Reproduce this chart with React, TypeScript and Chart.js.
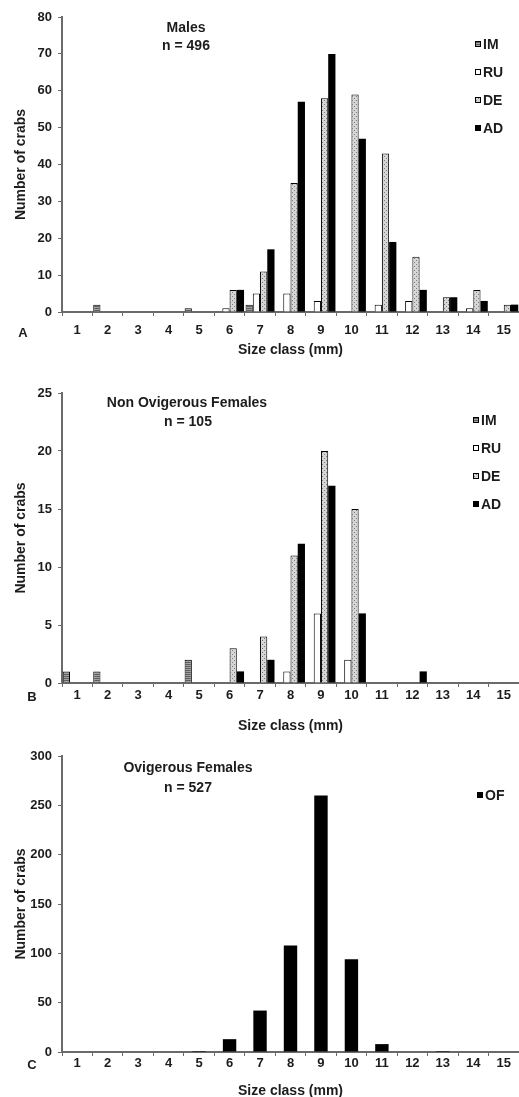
import React, { useEffect, useRef } from 'react';
import { Chart, registerables } from 'chart.js';

Chart.register(...registerables);

// ---------- data ----------
const SIZE_CLASSES = ['1', '2', '3', '4', '5', '6', '7', '8', '9', '10', '11', '12', '13', '14', '15'];

// Panel A – Males (n = 496)
const MALES_IM = [0, 2, 0, 0, 1, 0, 2, 0, 0, 0, 0, 0, 0, 0, 0];
const MALES_RU = [0, 0, 0, 0, 0, 1, 5, 5, 3, 0, 2, 3, 0, 1, 0];
const MALES_DE = [0, 0, 0, 0, 0, 6, 11, 35, 58, 59, 43, 15, 4, 6, 2];
const MALES_AD = [0, 0, 0, 0, 0, 6, 17, 57, 70, 47, 19, 6, 4, 3, 2];

// Panel B – Non ovigerous females (n = 105)
const NOF_IM = [1, 1, 0, 0, 2, 0, 0, 0, 0, 0, 0, 0, 0, 0, 0];
const NOF_RU = [0, 0, 0, 0, 0, 0, 0, 1, 6, 2, 0, 0, 0, 0, 0];
const NOF_DE = [0, 0, 0, 0, 0, 3, 4, 11, 20, 15, 0, 0, 0, 0, 0];
const NOF_AD = [0, 0, 0, 0, 0, 1, 2, 12, 17, 6, 0, 1, 0, 0, 0];

// Panel C – Ovigerous females (n = 527)
const OF_VALUES = [0, 0, 0, 0, 1, 13, 42, 108, 260, 94, 8, 0, 1, 0, 0];

const FONT = '"Liberation Sans", Arial, Helvetica, sans-serif';
const TEXT = '#1c1c1c';
const AXIS = '#6a6a6a';

type Kind = 'IM' | 'RU' | 'DE' | 'AD' | 'OF';

function makeFill(kind: Kind): string | CanvasPattern {
  if (kind === 'RU') return '#ffffff';
  if (kind === 'AD' || kind === 'OF') return '#000000';
  const c = document.createElement('canvas');
  c.width = 4;
  c.height = 4;
  const g = c.getContext('2d')!;
  if (kind === 'IM') {
    g.fillStyle = '#a2a2a2';
    g.fillRect(0, 0, 4, 4);
    g.fillStyle = '#5e5e5e';
    g.fillRect(0, 0, 4, 1);
    g.fillRect(0, 2, 4, 1);
  } else {
    g.fillStyle = '#d6d6d6';
    g.fillRect(0, 0, 4, 4);
    g.fillStyle = '#7c7c7c';
    g.fillRect(0, 0, 1, 1);
    g.fillRect(2, 2, 1, 1);
  }
  const p = g.createPattern(c, 'repeat');
  return p || '#bbbbbb';
}

interface PanelCfg {
  top: number;
  height: number;
  plotTop: number; // canvas coords
  xAxisHeight: number;
  yMax: number;
  yStep: number;
  series: { label: Kind; data: number[] }[];
  categoryPercentage: number;
  tickPad: number;
  titlePadBottom: number;
  letter: string;
  letterPos: [number, number];
  notes: { text: string; x: number; y: number }[];
  legendX: number;
  legendY: number;
}

const PANELS: PanelCfg[] = [
  {
    top: 0,
    height: 362,
    plotTop: 17,
    xAxisHeight: 50,
    yMax: 80,
    yStep: 10,
    series: [
      { label: 'IM', data: MALES_IM },
      { label: 'RU', data: MALES_RU },
      { label: 'DE', data: MALES_DE },
      { label: 'AD', data: MALES_AD },
    ],
    categoryPercentage: 0.95,
    tickPad: 7,
    titlePadBottom: 3,
    letter: 'A',
    letterPos: [23, 333],
    notes: [
      { text: 'Males', x: 186, y: 28 },
      { text: 'n = 496', x: 186, y: 46 },
    ],
    legendX: 475,
    legendY: 44,
  },
  {
    top: 362,
    height: 378,
    plotTop: 31,
    xAxisHeight: 57,
    yMax: 25,
    yStep: 5,
    series: [
      { label: 'IM', data: NOF_IM },
      { label: 'RU', data: NOF_RU },
      { label: 'DE', data: NOF_DE },
      { label: 'AD', data: NOF_AD },
    ],
    categoryPercentage: 0.95,
    tickPad: 1,
    titlePadBottom: 5,
    letter: 'B',
    letterPos: [32, 335],
    notes: [
      { text: 'Non Ovigerous Females', x: 187, y: 41 },
      { text: 'n = 105', x: 188, y: 60 },
    ],
    legendX: 473,
    legendY: 58,
  },
  {
    top: 740,
    height: 362,
    plotTop: 16,
    xAxisHeight: 50,
    yMax: 300,
    yStep: 50,
    series: [{ label: 'OF', data: OF_VALUES }],
    categoryPercentage: 0.44,
    tickPad: 0,
    titlePadBottom: 2,
    letter: 'C',
    letterPos: [32, 325],
    notes: [
      { text: 'Ovigerous Females', x: 188, y: 28 },
      { text: 'n = 527', x: 188, y: 48 },
    ],
    legendX: 477,
    legendY: 55,
  },
];

function Panel({ cfg }: { cfg: PanelCfg }) {
  const ref = useRef<HTMLCanvasElement>(null);

  useEffect(() => {
    const canvas = ref.current;
    if (!canvas) return;

    const datasets = cfg.series.map((s) => {
      const fill = makeFill(s.label);
      const solid = s.label === 'AD' || s.label === 'OF';
      return {
        label: s.label,
        data: s.data,
        backgroundColor: fill as any,
        borderColor: '#000000',
        borderWidth: solid ? 0 : 1,
        categoryPercentage: cfg.categoryPercentage,
        barPercentage: 1.0,
      };
    });

    const overlay = {
      id: 'overlay',
      afterDraw(chart: Chart) {
        const ctx = chart.ctx;
        ctx.save();
        ctx.fillStyle = TEXT;
        ctx.textBaseline = 'middle';
        ctx.textAlign = 'center';
        ctx.font = `bold 14px ${FONT}`;
        cfg.notes.forEach((n) => ctx.fillText(n.text, n.x, n.y));
        ctx.font = `bold 13px ${FONT}`;
        ctx.fillText(cfg.letter, cfg.letterPos[0], cfg.letterPos[1]);
        // legend
        ctx.font = `bold 14px ${FONT}`;
        ctx.textAlign = 'left';
        chart.data.datasets.forEach((ds: any, i: number) => {
          const y = cfg.legendY + i * 28;
          ctx.fillStyle = ds.backgroundColor;
          ctx.fillRect(cfg.legendX, y - 3, 6, 6);
          ctx.strokeStyle = '#000';
          ctx.lineWidth = 1;
          ctx.strokeRect(cfg.legendX + 0.5, y - 2.5, 5, 5);
          ctx.fillStyle = TEXT;
          ctx.fillText(ds.label, cfg.legendX + 8, y + 1);
        });
        ctx.restore();
      },
    };

    const chart = new Chart(canvas, {
      type: 'bar',
      data: { labels: SIZE_CLASSES, datasets },
      options: {
        responsive: false,
        animation: false,
        devicePixelRatio: 1,
        layout: { padding: { top: cfg.plotTop, left: 0, right: 0, bottom: 0 } },
        plugins: {
          legend: { display: false },
          tooltip: { enabled: false },
          title: { display: false },
        },
        scales: {
          x: {
            type: 'category',
            offset: true,
            grid: {
              offset: true,
              drawOnChartArea: false,
              drawTicks: true,
              tickLength: 4,
              color: AXIS,
              lineWidth: 1,
            },
            border: { display: true, color: AXIS, width: 2 },
            ticks: {
              color: TEXT,
              font: { family: FONT, size: 13, weight: 'bold' },
              padding: cfg.tickPad,
              maxRotation: 0,
              autoSkip: false,
            },
            title: {
              display: true,
              text: 'Size class (mm)',
              color: TEXT,
              font: { family: FONT, size: 14, weight: 'bold' },
              padding: { top: 0, bottom: cfg.titlePadBottom },
            },
            afterFit: (scale: any) => {
              scale.height = cfg.xAxisHeight;
            },
          },
          y: {
            type: 'linear',
            min: 0,
            max: cfg.yMax,
            grid: {
              drawOnChartArea: false,
              drawTicks: true,
              tickLength: 4,
              color: AXIS,
              lineWidth: 1,
            },
            border: { display: true, color: AXIS, width: 2 },
            ticks: {
              stepSize: cfg.yStep,
              color: TEXT,
              font: { family: FONT, size: 13, weight: 'bold' },
              padding: 6,
            },
            title: {
              display: true,
              text: 'Number of crabs',
              color: TEXT,
              font: { family: FONT, size: 14, weight: 'bold' },
              padding: { top: 13, bottom: 0 },
            },
            afterFit: (scale: any) => {
              scale.width = 62;
            },
          },
        },
      } as any,
      plugins: [overlay],
    });

    return () => chart.destroy();
  }, [cfg]);

  return (
    <canvas
      ref={ref}
      width={519}
      height={cfg.height}
      style={{ position: 'absolute', left: 0, top: cfg.top, width: 519, height: cfg.height, display: 'block' }}
    />
  );
}

export default function App() {
  return (
    <div
      style={{
        position: 'absolute',
        left: 0,
        top: 0,
        width: 519,
        height: 1097,
        overflow: 'hidden',
        background: '#ffffff',
      }}
    >
      {PANELS.map((p, i) => (
        <Panel key={i} cfg={p} />
      ))}
    </div>
  );
}
